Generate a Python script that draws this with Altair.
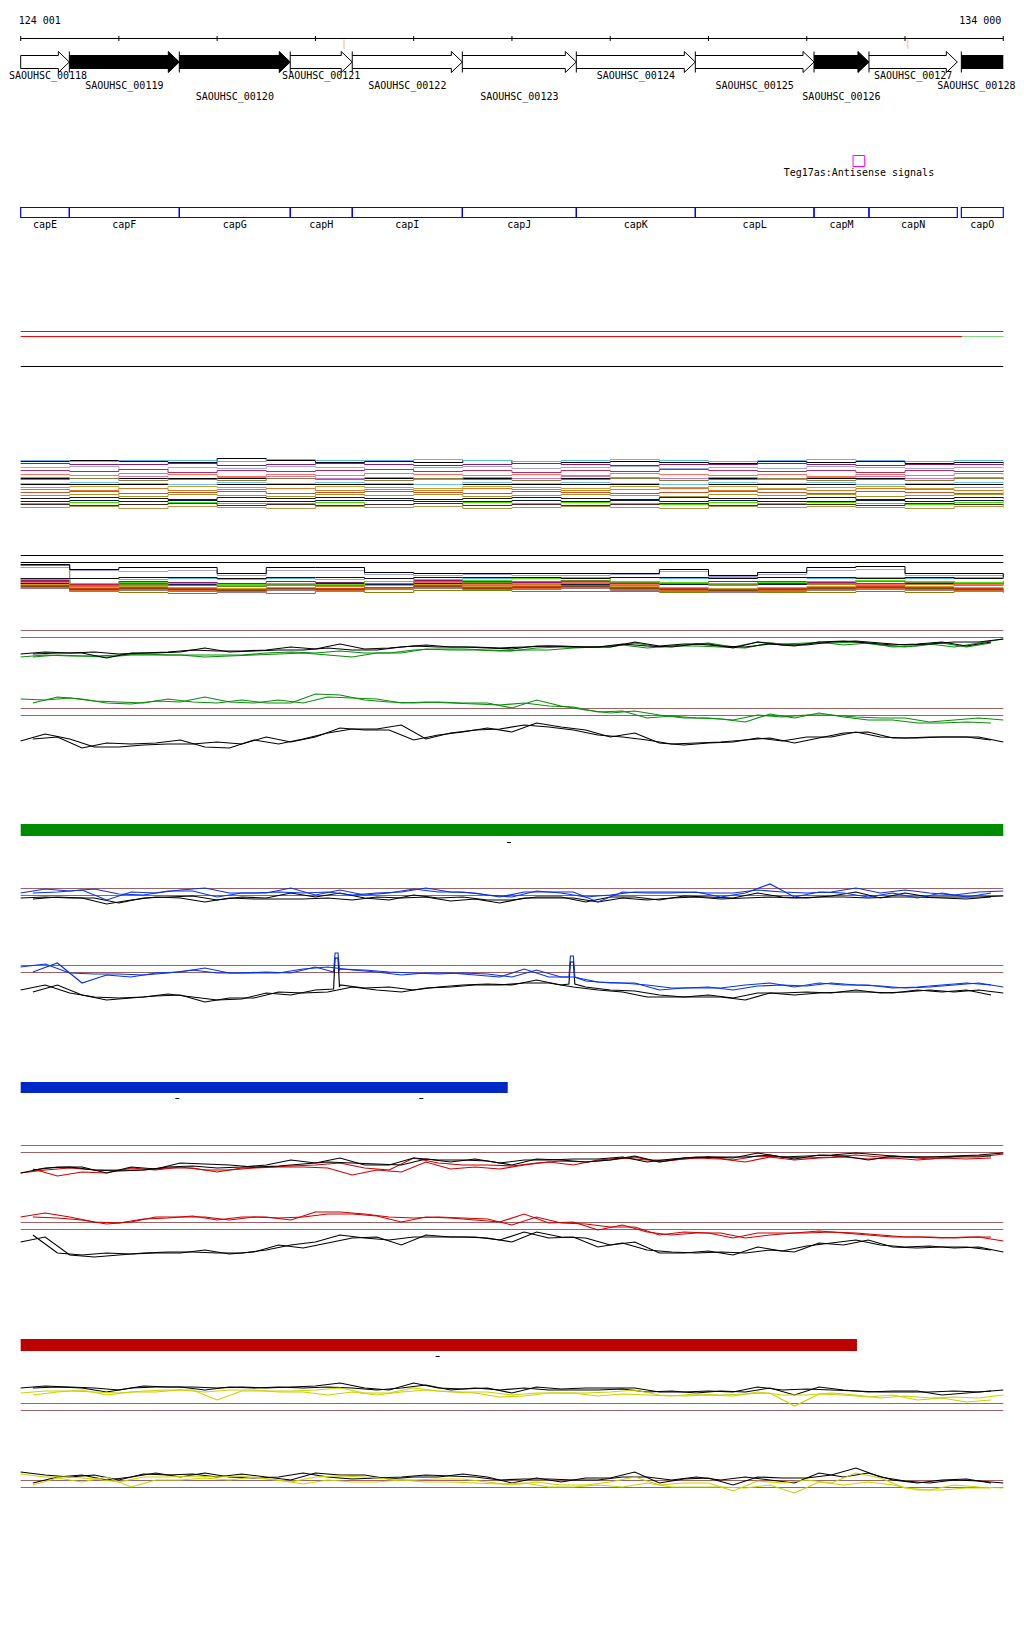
import altair as alt
import pandas as pd

# ---------------- genomic window ----------------
VIEW_START = 124001
VIEW_END = 134000
AXIS_TICKS = [124001, 125000, 126000, 127000, 128000, 129000, 130000,
              131000, 132000, 133000, 134000]
MINOR_MARKS = [127291, 133027]

# ---------------- genes ----------------
GENE_NAMES = ["SAOUHSC_00118", "SAOUHSC_00119", "SAOUHSC_00120", "SAOUHSC_00121",
              "SAOUHSC_00122", "SAOUHSC_00123", "SAOUHSC_00124", "SAOUHSC_00125",
              "SAOUHSC_00126", "SAOUHSC_00127", "SAOUHSC_00128"]
GENE_STARTS = [124001, 124496, 125615, 126744, 127375, 128495, 129655, 130866,
               132074, 132633, 133573]
GENE_ENDS = [124496, 125615, 126744, 127375, 128495, 129655, 130866, 132074,
             132633, 133532, 134000]
GENE_HIGHLIGHT = [0, 1, 1, 0, 0, 0, 0, 0, 1, 0, 1]
GENE_LABEL_ROW = [0, 1, 2, 0, 1, 2, 0, 1, 2, 0, 1]

CAP_NAMES = ["capE", "capF", "capG", "capH", "capI", "capJ", "capK", "capL",
             "capM", "capN", "capO"]
CAP_STARTS = [124001, 124496, 125615, 126744, 127375, 128495, 129655, 130866,
              132074, 132633, 133573]
CAP_ENDS = [124496, 125615, 126744, 127375, 128495, 129655, 130866, 132074,
            132633, 133532, 134000]

TEG_NAME = "Teg17as:Antisense signals"
TEG_START, TEG_END = 132471, 132590

# segments (green / blue / red bars) and short dashes under them
BAR_GREEN = (124001, 134000)
BAR_BLUE = (124001, 128957)
BAR_RED = (124001, 132511)
DASH_GREEN = [128970]
DASH_BLUE = [125595, 128078]
DASH_RED = [128244]
TOP_GREEN_SEGMENT = (133580, 134000)

# ---------------- signal sample positions ----------------
POS_GRID = [124000 + 250 * k for k in range(41)]
POS_MID = [124125 + 250 * k for k in range(40)]
POS_COARSE = [124000 + 500 * k for k in range(21)]

# track C (green condition, upper)
C_BLACK_1 = [16,18,17,18,16,17,18,20,19,19,20,23,21,26,21,22,24,23,23,22,
             21,24,24,23,23,28,24,26,26,22,28,25,25,28,29,27,25,26,28,28,31]
C_BLACK_2 = [16,17,17,12,17,17,18,22,18,19,20,20,22,20,20,23,25,23,23,22,
             23,24,23,23,26,24,23,26,24,23,26,24,28,29,27,25,26,28,24,28]
C_GREEN_1 = [13,15,14,14,15,16,15,15,15,15,17,18,17,19,17,17,20,21,21,20,
             19,22,23,23,23,27,23,25,27,23,28,26,27,27,28,25,23,26,23,27,31]
C_GREEN_2 = [13,15,14,13,15,15,15,13,14,15,16,17,15,13,17,17,21,20,20,19,
             20,20,22,23,25,22,24,24,23,22,27,25,28,25,27,23,24,27,23,27]
# track D (green condition, lower)
D_GREEN_1 = [21,20,22,19,18,17,21,18,17,20,17,17,26,25,20,18,17,18,17,17,
             12,20,14,10,7,9,5,2,2,0,5,3,5,5,3,2,2,-2,0,2,0]
D_GREEN_2 = [17,23,21,17,16,19,18,23,18,17,20,17,23,22,21,17,18,17,16,15,
             17,14,13,8,9,2,4,2,1,-2,6,2,7,3,0,0,-3,-3,-2,-3]
D_BLACK_1 = [19,26,21,13,13,15,16,16,18,16,23,18,23,32,30,30,20,25,28,32,
             28,37,33,30,23,27,17,15,17,18,22,19,23,23,28,23,22,23,23,23,18]
D_BLACK_2 = [21,23,12,17,16,17,20,13,12,20,16,21,27,31,31,35,21,27,30,31,
             35,33,30,25,23,20,16,17,18,20,22,17,22,27,28,22,22,23,23,20]
# track E (blue condition, upper)
E_BLUE_1 = [17,21,19,21,16,15,19,19,13,17,17,22,15,20,15,17,21,18,18,15,
            13,19,17,13,15,18,18,18,17,17,20,18,17,18,22,17,20,17,15,18,19]
E_BLACK_1 = [12,13,12,12,7,12,13,14,10,13,12,17,13,17,12,10,15,12,13,10,
             10,13,13,8,13,13,10,14,13,12,17,13,12,14,18,12,17,13,13,13,14]
E_BLUE_2 = [17,18,20,10,18,17,20,22,17,17,18,17,18,15,17,18,22,18,17,13,
            18,18,18,8,18,17,17,18,13,17,26,13,18,17,13,17,12,17,13,17]
E_BLACK_2 = [11,13,12,6,10,13,12,8,12,11,11,11,12,10,13,12,13,9,11,7,
             12,12,12,8,12,10,12,13,11,12,13,12,13,13,12,13,13,12,11,13]
# track F (blue condition, lower) with two narrow peaks
F_BLUE_1 = [43,46,37,36,36,35,37,40,37,37,38,37,43,41,40,38,37,36,37,36,
            33,40,33,29,27,27,20,22,23,20,24,25,24,27,25,24,22,23,25,27,23]
F_BLACK_1 = [20,25,17,13,12,13,16,13,10,11,17,15,20,25,22,23,20,23,25,26,
             25,30,25,23,20,19,15,13,15,12,17,17,18,17,20,17,18,20,18,20,17]
F_BLUE_2 = [38,47,27,35,33,37,38,42,37,37,37,41,43,40,38,35,37,37,35,33,
            41,33,33,28,27,25,22,22,22,25,27,23,27,25,25,22,23,25,27,25]
F_BLACK_2 = [18,25,15,10,12,14,15,8,12,12,18,17,18,23,20,18,22,23,25,25,
             27,27,23,20,18,13,13,13,13,10,17,15,17,18,18,17,20,18,20,15]
PEAK_POS = [127185, 127200, 127230, 127245, 129580, 129595, 129625, 129640]
PEAK_BLUE = [38, 57, 57, 40, 33, 54, 54, 33]
PEAK_BLACK = [21, 52, 52, 23, 26, 48, 48, 26]
# track G (red condition, upper)
G_BLACK_1 = [17,22,23,20,19,20,23,24,22,23,25,30,27,32,25,25,32,30,30,29,
             25,31,30,28,30,34,28,32,33,32,37,33,34,35,37,35,33,33,34,35,37]
G_RED_1 = [17,20,22,20,20,20,22,22,18,22,23,24,25,27,22,20,32,27,25,25,
           24,27,29,28,30,33,28,31,33,30,34,33,32,33,35,33,33,31,33,33,36]
G_RED_2 = [21,14,18,17,22,20,23,20,20,22,23,23,22,15,20,18,28,21,23,21,
           25,28,25,30,32,30,30,32,31,28,33,30,32,33,31,32,30,32,31,32]
G_BLACK_2 = [20,23,23,17,23,21,27,26,25,23,24,26,28,27,26,25,31,28,31,27,
             30,30,31,31,33,28,31,33,33,33,35,31,35,34,30,34,33,33,34,34]
# track H (red condition, lower)
H_RED_1 = [43,47,43,38,37,41,42,44,40,43,43,40,48,48,46,43,42,43,42,41,
           35,43,37,36,33,33,25,28,27,22,27,27,27,28,27,25,23,23,22,23,19]
H_BLACK_1 = [18,23,5,3,5,7,8,8,7,7,10,15,18,25,22,20,23,23,23,22,
             18,28,23,22,15,18,7,7,9,5,13,9,14,17,20,15,13,14,12,13,8]
H_RED_2 = [43,42,40,36,38,43,43,43,40,43,42,43,46,46,44,38,43,42,40,38,
           46,37,38,30,35,28,25,27,27,22,25,27,29,27,25,23,23,22,23,23]
H_BLACK_2 = [25,7,5,7,6,7,7,10,6,8,15,12,17,22,23,15,25,23,23,20,
             28,22,23,13,17,10,8,7,8,7,10,8,17,15,20,13,12,13,13,10]
# track I (yellow condition, upper)
I_BLACK_1 = [32,34,33,32,30,34,33,33,32,33,32,33,34,37,32,30,37,32,31,32,
             27,33,31,32,32,32,28,28,29,28,33,30,31,30,29,28,28,28,29,28,30]
I_YELLOW_1 = [27,29,29,28,27,29,30,30,20,29,29,29,30,32,27,27,32,29,28,28,
              25,27,27,27,28,30,25,24,25,24,28,25,25,27,25,22,24,22,23,22,25]
I_BLACK_2 = [32,33,32,28,32,33,33,30,33,32,33,32,33,32,30,32,35,30,32,30,
             32,30,30,30,31,28,29,27,29,28,32,25,33,30,28,29,29,25,27,29]
I_YELLOW_2 = [25,28,30,25,28,28,30,28,30,30,28,28,25,28,25,28,30,28,27,23,
              24,27,27,24,26,25,24,26,25,26,27,14,26,25,23,25,20,22,18,20]
# track J (yellow condition, lower)
J_BLACK_1 = [28,25,23,25,20,26,25,26,23,26,23,20,27,25,25,21,23,23,26,23,
             17,22,18,22,22,28,17,21,22,15,23,22,22,25,32,23,19,17,20,19,17]
J_YELLOW_1 = [26,23,23,21,18,23,23,24,23,24,21,18,23,24,23,21,20,21,21,18,
              15,18,15,15,18,23,15,17,17,9,19,17,20,17,27,22,12,10,15,13,12]
J_BLACK_2 = [17,23,25,20,23,27,23,27,23,22,23,27,23,21,22,23,25,24,23,20,
             21,21,20,20,23,23,20,23,20,23,20,17,27,23,27,20,17,20,21,17]
J_YELLOW_2 = [15,22,18,23,13,20,20,22,20,23,20,16,20,18,18,20,18,18,17,16,
              17,13,13,15,13,17,13,13,13,12,15,7,18,15,18,15,10,10,12,12]

# multi-sample bundle 1
BUNDLE1 = {
    "#000000": [49,50,49,48,52,50,48,49,48,50,47,48,49,48,47,49,48,49,47,48,47],
    "#5ab4f0": [50,49,50,50,49,51,50,50,51,50,49,50,51,50,49,50,51,50,49,50,50],
    "#8a1c6e": [47,46,46,47,45,46,47,46,45,46,47,46,45,46,46,47,46,45,46,46,45],
    "#9fa6e2": [43,44,41,43,42,44,43,41,43,44,42,43,44,42,43,42,44,43,42,43,42],
    "#b42a5a": [40,39,41,38,40,39,40,41,39,40,38,40,39,41,40,39,40,38,40,39,40],
    "#ff6e5a": [36,35,37,36,34,36,35,37,36,35,36,35,37,36,35,36,34,36,35,37,36],
    "#c878be": [33,32,34,31,33,34,32,33,31,33,32,34,33,32,33,31,33,34,32,33,32],
    "#8c7a3c": [31,32,30,31,30,32,31,30,32,31,30,31,32,30,31,32,30,31,30,32,31],
    "#6ec0f0": [27,28,27,26,28,27,28,27,26,28,27,28,27,26,28,27,28,26,27,28,27],
    "#c8a032": [23,24,22,24,23,22,24,23,22,24,23,22,24,23,24,22,23,24,22,23,24],
    "#dc7828": [21,20,22,20,21,22,20,21,20,22,21,20,21,22,20,21,20,22,21,20,21],
    "#c8502a": [18,19,17,18,19,17,18,19,18,17,19,18,17,18,19,18,17,19,18,17,18],
    "#a69628": [15,16,14,16,15,14,16,15,16,14,15,16,15,14,16,15,16,14,15,16,15],
    "#1a1a1a": [12,13,12,11,13,12,13,12,11,12,13,12,11,13,12,12,13,11,12,13,12],
    "#0a1a40": [9,10,9,10,9,9,10,10,9,9,10,9,10,9,10,9,9,10,9,10,9],
    "#44e000": [7,8,6,8,7,7,8,6,7,8,7,8,7,6,8,7,8,7,6,8,7],
    "#4a2a24": [6,5,6,7,5,6,5,6,7,5,6,5,6,7,5,6,6,5,7,6,5],
    "#b09640": [3,4,2,4,3,2,4,3,4,2,3,4,3,2,4,3,4,3,2,4,3],
}
# multi-sample bundle 2
BUNDLE2 = {
    "#808010": [40,14,13,12,13,12,14,13,15,15,14,14,14,13,14,13,13,14,13,14,13],
    "#a07878": [17,14,15,14,13,15,14,16,17,16,16,17,15,14,13,14,15,16,15,14,13],
    "#d2691e": [18,15,16,15,14,16,15,17,18,16,17,18,16,15,14,15,16,17,16,15,14],
    "#8b4513": [19,16,17,16,15,17,16,18,19,17,18,19,17,16,15,16,17,18,17,16,15],
    "#c04020": [20,17,18,17,16,18,17,18,20,18,19,20,18,17,16,17,18,19,18,17,16],
    "#c8a030": [21,18,19,18,17,18,19,20,21,19,20,21,19,18,17,18,19,20,19,18,17],
    "#e07020": [22,19,20,21,19,20,19,21,22,20,21,22,20,21,20,22,21,20,21,20,20],
    "#102050": [22,21,22,21,22,21,22,21,22,21,22,21,22,21,22,21,22,21,22,21,22],
    "#ff6a50": [23,20,21,22,20,21,20,22,23,21,22,23,21,22,21,23,22,21,23,21,22],
    "#c02050": [24,21,22,23,21,22,23,22,24,22,23,24,22,23,22,24,23,22,24,22,23],
    "#8a1c6e": [25,22,24,23,22,24,23,24,25,24,23,25,24,23,24,22,23,25,24,23,24],
    "#6b8e23": [26,20,21,20,19,21,20,22,24,23,24,25,23,22,21,23,22,24,23,22,23],
    "#60b0f0": [26,27,26,27,26,27,26,27,26,27,28,28,28,27,28,28,27,28,27,28,27],
    "#50e010": [27,22,23,22,21,22,21,24,26,25,27,27,24,23,22,23,24,25,24,23,24],
    "#111111": [27,27,28,28,27,28,28,27,28,28,28,27,28,28,27,28,28,27,28,27,28],
    "#a0a0e0": [38,35,34,35,30,35,35,31,30,31,30,30,31,34,29,31,35,36,30,30,27],
    "#000000": [41,36,38,38,32,38,38,33,32,32,32,32,32,36,30,33,38,39,32,32,28],
}

# ---------------- layout helpers ----------------
W, H = 1008, 1624
X0, X1 = 123871.8, 134129.3
FONT = "DejaVu Sans Mono"


def L(y):
    return y - 8


xs = alt.Scale(domain=[X0, X1], nice=False, zero=False)
ly = alt.Scale(domain=[0, H], range=[0, H], nice=False, zero=False)


def X(field):
    return alt.X(field, type="quantitative", scale=xs, axis=None)


layers = []

# ----- coordinate ruler -----
ruler = pd.DataFrame({"s": [VIEW_START], "e": [VIEW_END]})
layers.append(alt.Chart(ruler).mark_rule(color="black", strokeWidth=1).encode(
    x=X("s"), x2="e", y=alt.value(L(38.5))))
layers.append(alt.Chart(pd.DataFrame({"p": AXIS_TICKS})).mark_rule(
    color="black", strokeWidth=1).encode(
    x=X("p"), y=alt.value(L(36)), y2=alt.value(L(41))))
layers.append(alt.Chart(pd.DataFrame({"p": MINOR_MARKS})).mark_rule(
    color="#f6cfbd", strokeWidth=1.5).encode(
    x=X("p"), y=alt.value(L(39.5)), y2=alt.value(L(49))))
coord_lbl = pd.DataFrame({"p": [VIEW_START, VIEW_END],
                          "t": ["124 001", "134 000"],
                          "a": ["left", "right"]})
layers.append(alt.Chart(coord_lbl[coord_lbl.a == "left"]).mark_text(
    font=FONT, fontSize=10, align="left", baseline="middle", dx=-2,
    color="black").encode(x=X("p"), y=alt.value(L(20.5)), text="t:N"))
layers.append(alt.Chart(coord_lbl[coord_lbl.a == "right"]).mark_text(
    font=FONT, fontSize=10, align="right", baseline="middle", dx=-2,
    color="black").encode(x=X("p"), y=alt.value(L(20.5)), text="t:N"))

# ----- gene arrows: head triangles, body fill, body edges, start ticks -----
HEAD_BP = 112
BODY_T, BODY_B, HEAD_T, HEAD_B = L(55.5), L(68.5), L(51.5), L(72.5)
genes = pd.DataFrame({"name": GENE_NAMES, "s": GENE_STARTS, "e": GENE_ENDS,
                      "hl": GENE_HIGHLIGHT, "row": GENE_LABEL_ROW})
genes["fill"] = genes.hl.map({0: "white", 1: "black"})
genes["mid"] = (genes.s + genes.e) / 2
genes["has_head"] = genes.e < VIEW_END
genes["hs"] = genes.e.where(~genes.has_head, genes.e - HEAD_BP)
genes["hcenter"] = genes.e - HEAD_BP / 2
genes["body_e"] = genes.hs.where(~genes.has_head, genes.hs + 15)
heads = genes[genes.has_head]
TRI = "M-0.5238,-1L0.5238,0L-0.5238,1Z"
layers.append(alt.Chart(heads).mark_point(
    shape=TRI, size=441, filled=True, stroke="black", strokeWidth=1,
    opacity=1).encode(
    x=X("hcenter"), y=alt.value((HEAD_T + HEAD_B) / 2),
    fill=alt.Fill("fill:N", scale=None)))
layers.append(alt.Chart(genes).mark_rect().encode(
    x=X("s"), x2="body_e", y=alt.value(BODY_T), y2=alt.value(BODY_B),
    color=alt.Color("fill:N", scale=None)))
for yy in (BODY_T, BODY_B):
    layers.append(alt.Chart(genes).mark_rule(color="black", strokeWidth=1).encode(
        x=X("s"), x2="hs", y=alt.value(yy)))
first = genes[genes.s <= VIEW_START]
inner = genes[genes.s > VIEW_START]
layers.append(alt.Chart(first).mark_rule(color="black", strokeWidth=1).encode(
    x=X("s"), y=alt.value(BODY_T), y2=alt.value(BODY_B)))
layers.append(alt.Chart(inner).mark_rule(color="black", strokeWidth=1).encode(
    x=X("s"), y=alt.value(HEAD_T), y2=alt.value(HEAD_B)))
# gene labels (edge labels nudged so they stay inside the canvas)
label_dx = {GENE_NAMES[0]: 3, GENE_NAMES[-1]: -6}
genes["ldx"] = genes.name.map(label_dx).fillna(0)
for r, yy in enumerate([76.3, 85.5, 97.3]):
    for dxv, grp in genes[genes.row == r].groupby("ldx"):
        layers.append(alt.Chart(grp).mark_text(
            font=FONT, fontSize=10, baseline="middle", color="black",
            dx=float(dxv)).encode(
            x=X("mid"), y=alt.value(L(yy)), text="name:N"))

# ----- Teg17as -----
teg = pd.DataFrame({"s": [TEG_START], "e": [TEG_END], "t": [TEG_NAME]})
teg["mid"] = (teg.s + teg.e) / 2
layers.append(alt.Chart(teg).mark_rect(filled=False, color="#ff00ff",
                                       strokeWidth=1).encode(
    x=X("s"), x2="e", y=alt.value(L(155.5)), y2=alt.value(L(166.5))))
layers.append(alt.Chart(teg).mark_text(font=FONT, fontSize=10, baseline="middle",
                                       color="black").encode(
    x=X("mid"), y=alt.value(L(172.5)), text="t:N"))

# ----- cap operon boxes -----
caps = pd.DataFrame({"name": CAP_NAMES, "s": CAP_STARTS, "e": CAP_ENDS})
caps["mid"] = (caps.s + caps.e) / 2
layers.append(alt.Chart(caps).mark_rect(filled=False, color="#0000ff",
                                        strokeWidth=1.2).encode(
    x=X("s"), x2="e", y=alt.value(L(207.5)), y2=alt.value(L(217.5))))
layers.append(alt.Chart(caps).mark_text(font=FONT, fontSize=10, baseline="middle",
                                        color="black").encode(
    x=X("mid"), y=alt.value(L(224.7)), text="name:N"))

# ----- horizontal guide lines -----
BROWN = "#9c6262"
guide_y = [331.5, 336.5, 366.5, 478.5, 484.5, 555.5, 562.5,
           630.5, 637.5, 708.5, 715.5, 888.5, 895.5, 965.5, 972.5,
           1145.5, 1152.5, 1222.5, 1229.5, 1403.5, 1410.5, 1480.5, 1487.5]
guide_c = ["#ff0000", "#ff0000", "#000000", "#000000", "#000000", "#000000",
           "#000000"] + [BROWN] * 16
guides = pd.DataFrame({"y": [L(v) for v in guide_y], "c": guide_c,
                       "s": VIEW_START, "e": VIEW_END})
layers.append(alt.Chart(guides).mark_rule(strokeWidth=1).encode(
    x=X("s"), x2="e", y=alt.Y("y:Q", scale=ly, axis=None),
    color=alt.Color("c:N", scale=None)))
seg = pd.DataFrame({"s": [TOP_GREEN_SEGMENT[0]], "e": [TOP_GREEN_SEGMENT[1]]})
layers.append(alt.Chart(seg).mark_rule(color="#7ddc7d", strokeWidth=1).encode(
    x=X("s"), x2="e", y=alt.value(L(336.5))))

# ----- segment bars and dashes -----
bars = pd.DataFrame({
    "s": [BAR_GREEN[0], BAR_BLUE[0], BAR_RED[0]],
    "e": [BAR_GREEN[1], BAR_BLUE[1], BAR_RED[1]],
    "yt": [L(824), L(1082), L(1339)], "yb": [L(836), L(1093), L(1351)],
    "c": ["#008c00", "#0028c8", "#bd0000"]})
layers.append(alt.Chart(bars).mark_rect().encode(
    x=X("s"), x2="e", y=alt.Y("yt:Q", scale=ly, axis=None), y2="yb:Q",
    color=alt.Color("c:N", scale=None)))
dash_rows = ([(p, L(842.5)) for p in DASH_GREEN] + [(p, L(1098.5)) for p in DASH_BLUE]
             + [(p, L(1356.5)) for p in DASH_RED])
dashes = pd.DataFrame({"s": [d[0] - 20 for d in dash_rows],
                       "e": [d[0] + 20 for d in dash_rows],
                       "y": [d[1] for d in dash_rows]})
layers.append(alt.Chart(dashes).mark_rule(color="black", strokeWidth=1).encode(
    x=X("s"), x2="e", y=alt.Y("y:Q", scale=ly, axis=None)))


# ----- signal tracks -----
def series_df(pos, vals, name, color, extra=None):
    pts = list(zip(pos, vals))
    if extra:
        pts = sorted(pts + extra)
    return pd.DataFrame({"p": [a for a, _ in pts], "v": [b for _, b in pts],
                         "sr": name, "c": color})


def track(dfs, base, interp="linear", width=1.15):
    df = pd.concat(dfs, ignore_index=True)
    ys = alt.Scale(domain=[0, 100], range=[L(base), L(base) - 100],
                   nice=False, zero=False)
    return alt.Chart(df).mark_line(strokeWidth=width, interpolate=interp,
                                   clip=True).encode(
        x=X("p"), y=alt.Y("v:Q", scale=ys, axis=None),
        color=alt.Color("c:N", scale=None), detail="sr:N")


GREEN, BLUE, RED, YEL, BLK = "#0a8c0a", "#0a32e6", "#cc0000", "#c8d200", "#000000"

b1 = [series_df(POS_COARSE, v, "b1_%d" % i, c)
      for i, (c, v) in enumerate(BUNDLE1.items())]
layers.append(track(b1, 510.5, interp="step-after", width=1))
b2 = [series_df(POS_COARSE, v, "b2_%d" % i, c)
      for i, (c, v) in enumerate(BUNDLE2.items())]
layers.append(track(b2, 605.5, interp="step-after", width=1))

layers.append(track([series_df(POS_GRID, C_GREEN_1, "g1", GREEN),
                     series_df(POS_MID, C_GREEN_2, "g2", GREEN),
                     series_df(POS_GRID, C_BLACK_1, "k1", BLK),
                     series_df(POS_MID, C_BLACK_2, "k2", BLK)], 670))
layers.append(track([series_df(POS_GRID, D_GREEN_1, "g1", GREEN),
                     series_df(POS_MID, D_GREEN_2, "g2", GREEN)], 720))
layers.append(track([series_df(POS_GRID, D_BLACK_1, "k1", BLK),
                     series_df(POS_MID, D_BLACK_2, "k2", BLK)], 760))
layers.append(track([series_df(POS_GRID, E_BLACK_1, "k1", BLK),
                     series_df(POS_MID, E_BLACK_2, "k2", BLK),
                     series_df(POS_GRID, E_BLUE_1, "b1", BLUE),
                     series_df(POS_MID, E_BLUE_2, "b2", BLUE)], 910))
peak_b = list(zip(PEAK_POS, PEAK_BLUE))
peak_k = list(zip(PEAK_POS, PEAK_BLACK))
layers.append(track([series_df(POS_GRID, F_BLACK_1, "k1", BLK, peak_k),
                     series_df(POS_MID, F_BLACK_2, "k2", BLK),
                     series_df(POS_GRID, F_BLUE_1, "b1", BLUE, peak_b),
                     series_df(POS_MID, F_BLUE_2, "b2", BLUE)], 1010))
layers.append(track([series_df(POS_GRID, G_RED_1, "r1", RED),
                     series_df(POS_MID, G_RED_2, "r2", RED),
                     series_df(POS_GRID, G_BLACK_1, "k1", BLK),
                     series_df(POS_MID, G_BLACK_2, "k2", BLK)], 1190))
layers.append(track([series_df(POS_GRID, H_RED_1, "r1", RED),
                     series_df(POS_MID, H_RED_2, "r2", RED),
                     series_df(POS_GRID, H_BLACK_1, "k1", BLK),
                     series_df(POS_MID, H_BLACK_2, "k2", BLK)], 1260))
layers.append(track([series_df(POS_GRID, I_BLACK_1, "k1", BLK),
                     series_df(POS_MID, I_BLACK_2, "k2", BLK),
                     series_df(POS_GRID, I_YELLOW_1, "y1", YEL),
                     series_df(POS_MID, I_YELLOW_2, "y2", YEL)], 1420))
layers.append(track([series_df(POS_GRID, J_BLACK_1, "k1", BLK),
                     series_df(POS_MID, J_BLACK_2, "k2", BLK),
                     series_df(POS_GRID, J_YELLOW_1, "y1", YEL),
                     series_df(POS_MID, J_YELLOW_2, "y2", YEL)], 1500))

chart = alt.layer(*layers).resolve_scale(y="independent", color="independent",
                                         fill="independent").properties(
    width=W, height=H, padding=0, autosize=alt.AutoSizeParams(type="none"),
    background="white").configure_view(stroke=None)

chart.save("out.html", embed_options={"renderer": "svg", "actions": False})
